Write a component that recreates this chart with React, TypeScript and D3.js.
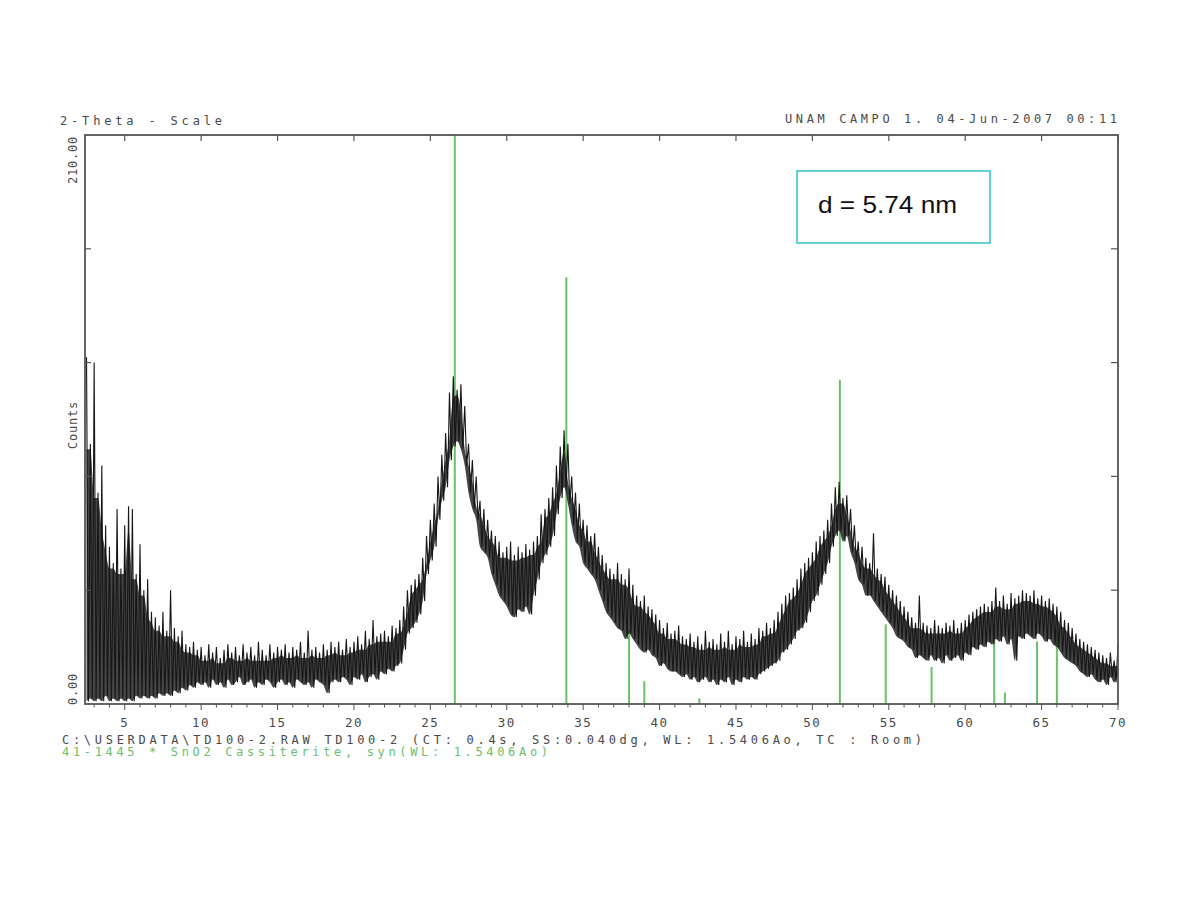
import React from "react";
import * as d3 from "d3";

const thetaStart = 2.5;
const thetaStep = 0.25;

// upper envelope of the noisy pattern (counts), one value per 0.25 deg, 2.5 .. 70
const countsHigh: number[] = [
  128, 96,
  126, 78, 88, 66,
  58, 52, 72, 50,
  66, 73, 72, 48,
  59, 42, 46, 34,
  32, 29, 34, 27,
  42, 28, 25, 27,
  22, 21, 23, 20,
  21, 18, 22, 19,
  21, 17, 20, 22,
  19, 21, 18, 22,
  19, 21, 18, 23,
  20, 18, 22, 19,
  21, 20, 22, 19,
  21, 20, 23, 19,
  27, 20, 21, 19,
  22, 20, 23, 21,
  23, 20, 24, 21,
  23, 25, 22, 27,
  24, 31, 25, 26,
  27, 25, 29, 28,
  31, 36, 42, 44,
  46, 48, 54, 62,
  68, 74, 84, 92,
  100, 115, 121, 116,
  118, 110, 96, 90,
  84, 75, 72, 68,
  64, 62, 60, 56,
  58, 60, 55, 58,
  56, 59, 57, 60,
  62, 70, 72, 76,
  80, 88, 95, 101,
  96, 84, 78, 74,
  68, 66, 62, 63,
  58, 55, 52, 50,
  48, 52, 48, 46,
  50, 44, 40, 38,
  40, 36, 35, 33,
  31, 28, 30, 26,
  27, 29, 25, 24,
  26, 23, 25, 22,
  27, 23, 24, 22,
  26, 23, 27, 22,
  25, 24, 27, 23,
  26, 24, 28, 27,
  30, 28, 31, 34,
  37, 40, 41, 43,
  46, 50, 52, 54,
  56, 60, 62, 64,
  68, 74, 80, 82,
  76, 77, 72, 66,
  60, 58, 54, 52,
  63, 50, 48, 47,
  44, 42, 40, 38,
  36, 34, 32, 30,
  40, 30, 29, 28,
  31, 29, 28, 30,
  29, 31, 28, 30,
  31, 33, 34, 35,
  36, 37, 36, 38,
  43, 38, 40, 37,
  41, 39, 40, 42,
  41, 40, 42, 39,
  40, 38, 39, 37,
  36, 34, 31, 30,
  28, 26, 24, 23,
  22, 21, 20, 19,
  18, 17, 19, 16,
  22,
];

// lower envelope of the noisy pattern (counts)
const countsLow: number[] = [
  1, 2,
  1, 2, 1, 3,
  1, 2, 1, 2,
  1, 2, 1, 3,
  2, 3, 2, 3,
  2, 4, 3, 4,
  3, 5, 4, 6,
  5, 7, 6, 8,
  7, 8, 6, 9,
  7, 8, 6, 9,
  7, 8, 10, 7,
  8, 9, 6, 8,
  7, 9, 8, 6,
  8, 9, 7, 8,
  6, 9, 8, 7,
  8, 6, 9, 8,
  7, 4, 8, 9,
  8, 10, 9, 7,
  10, 9, 11, 8,
  10, 11, 9, 12,
  11, 13, 12, 14,
  15, 20, 26, 28,
  30, 33, 38, 48,
  53, 58, 68, 75,
  80, 90, 95, 97,
  94, 88, 78, 72,
  68, 58, 56, 54,
  48, 44, 40, 38,
  36, 33, 32, 35,
  34, 36, 33, 40,
  46, 52, 55, 58,
  62, 70, 76, 80,
  74, 66, 60, 58,
  52, 50, 48, 46,
  42, 38, 34, 32,
  30, 28, 27, 24,
  26, 24, 22, 20,
  19, 20, 18, 17,
  14, 15, 13, 12,
  12, 11, 10, 11,
  9, 10, 8, 9,
  10, 8, 9, 7,
  9, 8, 10, 7,
  9, 8, 10, 9,
  10, 9, 11, 12,
  13, 14, 15, 16,
  19, 20, 22, 24,
  27, 28, 30, 34,
  38, 40, 44, 48,
  52, 58, 62, 64,
  60, 62, 56, 52,
  46, 44, 40, 40,
  38, 36, 34, 32,
  30, 28, 25, 24,
  23, 21, 20, 17,
  18, 17, 16, 18,
  16, 17, 15, 18,
  16, 17, 18, 16,
  19, 18, 21, 20,
  22, 21, 23, 22,
  24, 23, 25, 22,
  24, 16, 25, 24,
  26, 25, 24, 26,
  25, 23, 24, 22,
  21, 19, 17, 16,
  15, 14, 12, 11,
  10, 11, 9, 8,
  9, 7, 10, 8,
  11,
];

// SnO2 cassiterite reference lines (41-1445): 2-theta and relative intensity (%)
const refTheta: number[] = [26.6, 33.9, 38.0, 39.0, 42.6, 51.8, 54.8, 57.8, 61.9, 62.6, 64.7, 66.0];
const refIntensity: number[] = [100, 75, 13, 4, 1, 57, 14, 6.5, 14, 2, 11, 13];

const xTickLabels: number[] = [5, 10, 15, 20, 25, 30, 35, 40, 45, 50, 55, 60, 65, 70];
const yTickValues: number[] = [42, 84, 126, 168];
const yMax = 210;

const W = 1178;
const H = 911;
const left = 85;
const right = 1118;
const top = 135;
const bottom = 704;

const mono = "'DejaVu Sans Mono', 'Liberation Mono', monospace";
const grey = "#4a4a4a";
const green = "#6cbf6c";

type Row = { t: number; lo: number; hi: number; core: number };

export default function App() {
  const x = d3.scaleLinear().domain([2.4, 70]).range([left, right]);
  const y = d3.scaleLinear().domain([0, yMax]).range([bottom, top]);

  const rows: Row[] = countsHigh.map((h, i) => ({
    t: thetaStart + i * thetaStep,
    lo: countsLow[i],
    hi: h,
    core: Math.max(
      countsLow[i],
      (d3.min([countsHigh[i - 1] ?? h, h, countsHigh[i + 1] ?? h]) as number) - 2
    ),
  }));

  const pts: [number, number][] = [];
  rows.forEach((r) => {
    pts.push([r.t, r.hi]);
    pts.push([r.t + thetaStep / 2, r.lo]);
  });
  const line = d3
    .line<[number, number]>()
    .x((d) => x(d[0]))
    .y((d) => y(d[1]));

  const band = d3
    .area<Row>()
    .x((d) => x(d.t))
    .y0((d) => y(d.lo))
    .y1((d) => y(d.core))
    .curve(d3.curveMonotoneX);

  const minor = d3.range(3, 71, 1);

  return (
    <svg
      width={W}
      height={H}
      style={{ position: "absolute", left: 0, top: 0, background: "#fefefe" }}
    >
      <rect x={0} y={0} width={W} height={H} fill="#fefefe" />
      <defs>
        <clipPath id="plotclip">
          <rect x={left} y={top} width={right - left} height={bottom - top} />
        </clipPath>
      </defs>

      {/* header texts */}
      <text x={60} y={125} fontFamily={mono} fontSize={12} fill={grey} textLength={162} lengthAdjust="spacing">
        2-Theta - Scale
      </text>
      <text x={785} y={123} fontFamily={mono} fontSize={12} fill={grey} textLength={332} lengthAdjust="spacing">
        UNAM CAMPO 1. 04-Jun-2007 00:11
      </text>

      {/* reference lines */}
      <g clipPath="url(#plotclip)">
        {refTheta.map((t, i) => (
          <line
            key={"r" + i}
            x1={x(t)}
            x2={x(t)}
            y1={y(0)}
            y2={y((refIntensity[i] / 100) * yMax)}
            stroke={green}
            strokeWidth={2}
          />
        ))}
      </g>

      {/* diffraction pattern */}
      <g clipPath="url(#plotclip)">
        <path d={band(rows) || ""} fill="#1c1c1c" fillOpacity={0.82} stroke="none" />
        <path d={line(pts) || ""} fill="none" stroke="#161616" strokeWidth={1.1} />
      </g>

      {/* frame */}
      <rect x={left} y={top} width={right - left} height={bottom - top} fill="none" stroke="#555" strokeWidth={1.8} />

      {/* bottom ticks */}
      {minor.map((t) => (
        <line
          key={"m" + t}
          x1={x(t)}
          x2={x(t)}
          y1={bottom}
          y2={bottom + (t % 5 === 0 ? 6 : 3.5)}
          stroke="#555"
          strokeWidth={1}
        />
      ))}
      {/* top ticks */}
      {xTickLabels.map((t) => (
        <line key={"t" + t} x1={x(t)} x2={x(t)} y1={top} y2={top + 6} stroke="#555" strokeWidth={1.2} />
      ))}
      {/* side ticks */}
      {yTickValues.map((v) => (
        <g key={"y" + v}>
          <line x1={right} x2={right - 7} y1={y(v)} y2={y(v)} stroke="#555" strokeWidth={1.2} />
          <line x1={left} x2={left + 6} y1={y(v)} y2={y(v)} stroke="#555" strokeWidth={1.2} />
        </g>
      ))}

      {/* x tick labels */}
      {xTickLabels.map((t) => (
        <text
          key={"l" + t}
          x={x(t)}
          y={727}
          fontFamily={mono}
          fontSize={12.5}
          fill={grey}
          textAnchor="middle"
          letterSpacing={1.5}
        >
          {t}
        </text>
      ))}

      {/* y labels */}
      <text
        transform={`translate(77, 160) rotate(-90)`}
        fontFamily={mono}
        fontSize={12}
        fill={grey}
        textAnchor="middle"
        letterSpacing={0.8}
      >
        210.00
      </text>
      <text
        transform={`translate(77, 689) rotate(-90)`}
        fontFamily={mono}
        fontSize={12}
        fill={grey}
        textAnchor="middle"
        letterSpacing={0.8}
      >
        0.00
      </text>
      <text
        transform={`translate(77, 425) rotate(-90)`}
        fontFamily={mono}
        fontSize={12}
        fill={grey}
        textAnchor="middle"
        letterSpacing={0.8}
      >
        Counts
      </text>

      {/* bottom info texts */}
      <text x={62} y={744} fontFamily={mono} fontSize={12} fill={grey} textLength={860} lengthAdjust="spacing">
        {"C:\\USERDATA\\TD100-2.RAW TD100-2 (CT:  0.4s, SS:0.040dg, WL: 1.5406Ao, TC : Room)"}
      </text>
      <text x={62} y={756} fontFamily={mono} fontSize={12} fill={green} textLength={486} lengthAdjust="spacing">
        41-1445 * SnO2 Cassiterite, syn(WL: 1.5406Ao)
      </text>

      {/* crystallite size box */}
      <rect x={797} y={171} width={193} height={72} fill="#ffffff" stroke="#3cc6cc" strokeWidth={1.6} />
      <text x={818} y={213} fontFamily="'Liberation Sans', Arial, sans-serif" fontSize={24} fill="#111" textLength={139} lengthAdjust="spacingAndGlyphs">
        d = 5.74 nm
      </text>
    </svg>
  );
}
